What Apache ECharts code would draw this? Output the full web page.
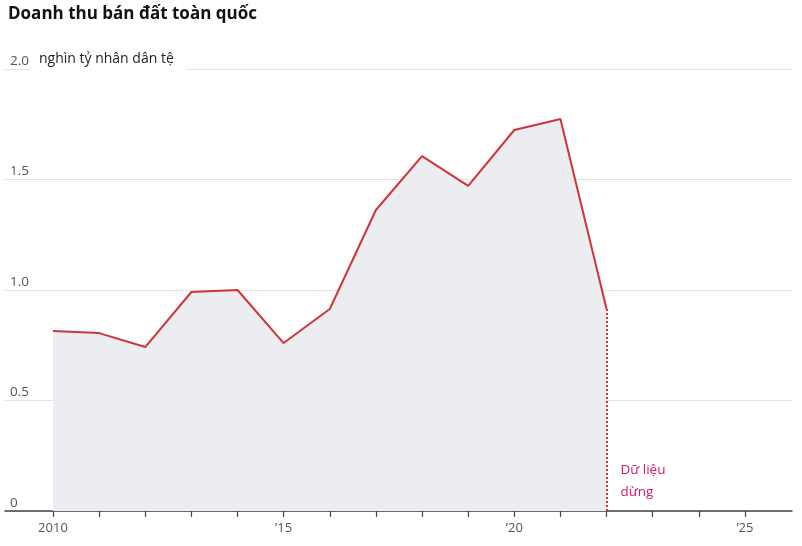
<!DOCTYPE html>
<html>
<head>
<meta charset="utf-8">
<script src="https://cdn.jsdelivr.net/npm/echarts@6/dist/echarts.min.js"></script>
<style>
html,body{margin:0;padding:0;background:#fff;}
#chart{width:802px;height:546px;}
</style>
</head>
<body>
<div id="chart"></div>
<script>
var titleText = 'Doanh thu bán đất toàn quốc';
var unitText = 'nghìn tỷ nhân dân tệ';
var noteText = 'Dữ liệu\ndừng';
var years = [2010, 2011, 2012, 2013, 2014, 2015, 2016, 2017, 2018, 2019, 2020, 2021, 2022];
var revenue = [0.814, 0.805, 0.742, 0.991, 1.0, 0.76, 0.914, 1.362, 1.606, 1.471, 1.724, 1.774, 0.914];
var tickYears = [2010, 2011, 2012, 2013, 2014, 2015, 2016, 2017, 2018, 2019, 2020, 2021, 2022, 2023, 2024, 2025];
var labelYears = [2010, 2015, 2020, 2025];
var yTicks = [0, 0.5, 1, 1.5, 2];

var stopYear = years[years.length - 1];
var stopValue = revenue[revenue.length - 1];
var FONT = '"Open Sans", "Noto Sans", sans-serif';

var chart = echarts.init(document.getElementById('chart'), null, {renderer: 'canvas'});
var seriesData = years.map(function (y, i) { return [y, revenue[i]]; });

chart.setOption({
  animation: false,
  backgroundColor: '#ffffff',
  title: {
    text: titleText,
    left: 3,
    top: 1,
    textStyle: {fontFamily: FONT, fontSize: 17, fontWeight: 'bold', color: '#111111'}
  },
  grid: {left: 5, right: 10, top: 69, bottom: 35, containLabel: false},
  xAxis: {
    type: 'value',
    min: 2008.96,
    max: 2026.02,
    axisLine: {show: true, lineStyle: {color: '#444444', width: 1.5}},
    axisTick: {show: true, customValues: tickYears, length: 6, lineStyle: {color: '#444444', width: 1.2}},
    splitLine: {show: false},
    axisLabel: {
      customValues: labelYears,
      margin: 11,
      fontFamily: FONT,
      fontSize: 13,
      color: '#555555',
      formatter: function (v) { return v === 2010 ? '2010' : '\u2019' + String(v).slice(2); }
    }
  },
  yAxis: {
    type: 'value',
    min: 0,
    max: 2,
    interval: 0.5,
    axisLine: {show: false},
    axisTick: {show: false},
    splitLine: {show: true, lineStyle: {color: '#e3e3e3', width: 1}},
    axisLabel: {
      inside: true,
      margin: 5,
      align: 'left',
      verticalAlign: 'bottom',
      padding: [0, 0, 1, 0],
      fontFamily: FONT,
      fontSize: 13.5,
      color: '#555555',
      formatter: function (v) { return v === 0 ? '0' : v.toFixed(1); }
    }
  },
  graphic: [
    {type: 'rect', z: 100, shape: {x: 30, y: 63, width: 156, height: 10}, style: {fill: '#ffffff'}},
    {type: 'text', z: 101, left: 39, top: 52, style: {text: unitText, font: '14px ' + FONT, fill: '#222222'}}
  ],
  series: [{
    type: 'line',
    data: seriesData,
    symbol: 'none',
    lineStyle: {color: '#d0333c', width: 2},
    areaStyle: {color: '#ecedf0', opacity: 1},
    z: 3,
    markLine: {
      silent: true,
      symbol: ['none', 'none'],
      lineStyle: {color: '#d0333c', type: [2, 2], width: 2},
      label: {show: false},
      data: [[{coord: [stopYear, stopValue]}, {coord: [stopYear, 0]}]]
    },
    markPoint: {
      symbol: 'circle',
      symbolSize: 0,
      data: [{coord: [stopYear, 0]}],
      label: {
        show: true,
        position: 'right',
        offset: [9, -30],
        formatter: noteText,
        fontFamily: FONT,
        fontSize: 13.5,
        lineHeight: 22,
        align: 'left',
        color: '#d4176c'
      }
    }
  }]
});
</script>
</body>
</html>
